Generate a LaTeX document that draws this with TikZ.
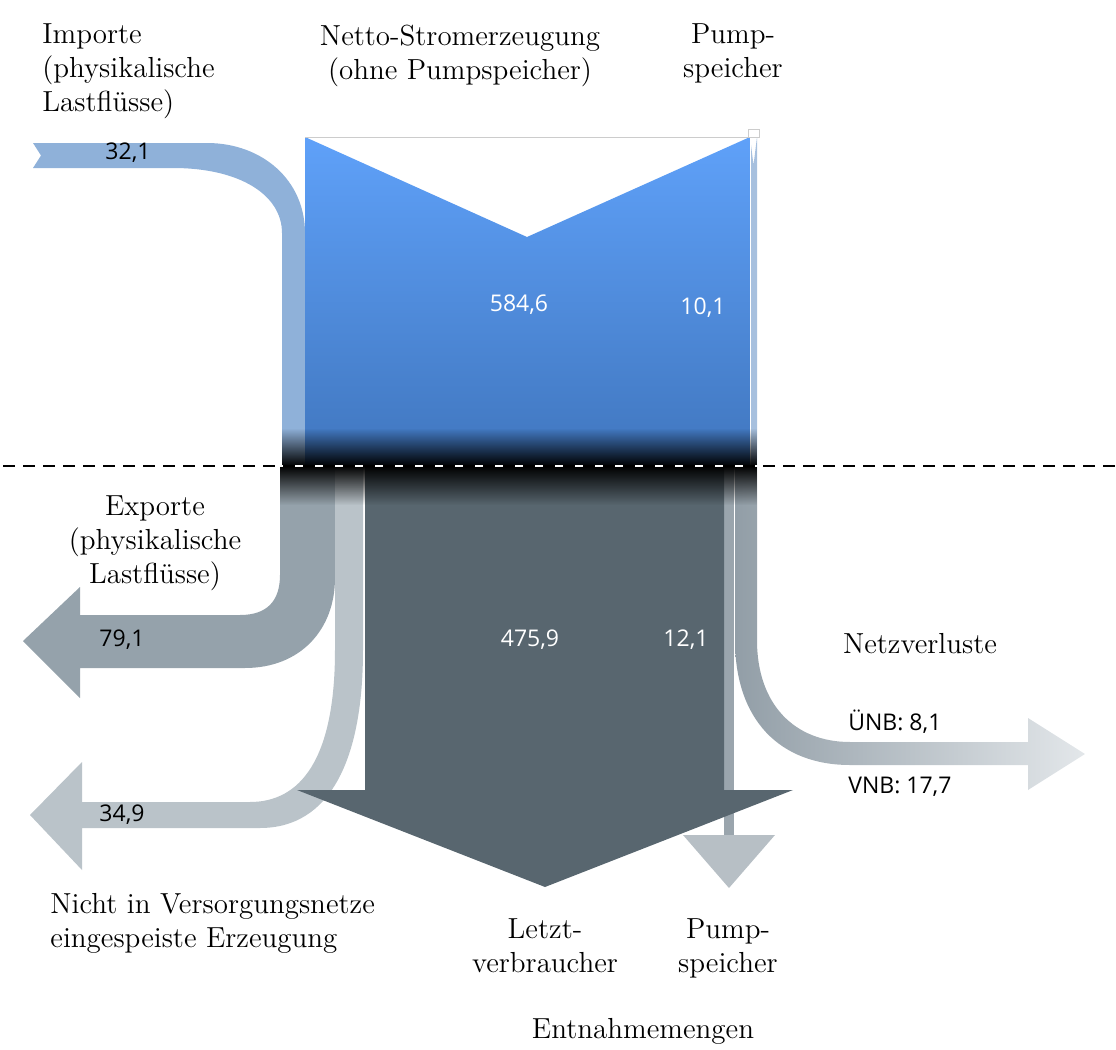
\documentclass[tikz,border=0pt]{standalone}
\usepackage{fontspec}
\newfontfamily\numfont{Open Sans}
\usepackage{tikz}
\usetikzlibrary{fadings}
\usepackage{xcolor}
\definecolor{impblue}{RGB}{143,177,217}
\definecolor{bluetop}{RGB}{95,161,249}
\definecolor{bluebot}{RGB}{64,118,190}
\definecolor{pumpblue}{RGB}{167,192,222}
\definecolor{expgrey}{RGB}{149,162,171}
\definecolor{nichtgrey}{RGB}{186,195,201}
\definecolor{darkgrey}{RGB}{88,102,111}
\definecolor{pumpgrey}{RGB}{154,165,173}
\definecolor{pumphead}{RGB}{183,191,197}
\definecolor{netzdark}{RGB}{146,158,167}
\definecolor{netzlight}{RGB}{227,231,234}

\begin{document}
\begin{tikzpicture}[x=0.5pt,y=-0.5pt,
  lbl/.style={font=\fontsize{14.5}{17}\selectfont, inner sep=0pt, align=center},
  num/.style={font=\numfont\fontsize{11.5}{14}\selectfont, inner sep=0pt}]
  \useasboundingbox (0,0) rectangle (1116,1050);
  % Aufkommen (oben)
  \fill[impblue] (33,143) -- (207,143) .. controls (262,143) and (305,180) .. (305,233) -- (305,466)
    -- (282,466) -- (282,233) .. controls (282,195) and (240,168) .. (173,168) -- (33,168) -- (41,155.5) -- cycle;
  \shade[top color=bluetop, bottom color=bluebot] (305,137) -- (527,237) -- (750,137) -- (750,466) -- (305,466) -- cycle;
  \fill[pumpblue] (750,137) -- (753.5,165) -- (757,137) -- (757,466) -- (750,466) -- cycle;
  \draw[white, line width=0.5pt] (750,137) -- (750,466);
  \draw[gray!40, line width=0.4pt] (305,137) -- (748,137);
  \draw[gray!40, fill=white, line width=0.4pt] (748,129) rectangle (759,137);
  % Verwendung (unten)
  \fill[expgrey] (280,466) -- (280,575) .. controls (280,600) and (268,615) .. (240,615) -- (80,615) -- (80,587)
    -- (23,641) -- (80,698) -- (80,668) -- (245,668) .. controls (300,668) and (335,630) .. (335,578) -- (335,466) -- cycle;
  \fill[nichtgrey] (335,466) -- (335,650) .. controls (335,760) and (300,802) .. (250,802) -- (82,802) -- (82,762)
    -- (30,815) -- (82,870) -- (82,828) -- (260,828) .. controls (330,828) and (363,760) .. (363,650) -- (363,466) -- cycle;
  \shade[left color=netzdark, right color=netzlight] (735,466) -- (735,640) .. controls (735,720) and (780,765) .. (850,765)
    -- (1028,765) -- (1028,790) -- (1085,754) -- (1028,718) -- (1028,742) -- (850,742)
    .. controls (795,742) and (757,705) .. (757,640) -- (757,466) -- cycle;
  \fill[pumpgrey] (724,466) rectangle (734,835);
  \fill[pumphead] (683,835) -- (775,835) -- (729,888) -- cycle;
  \fill[darkgrey] (365,466) -- (724,466) -- (724,790) -- (793,790) -- (545,887) -- (297,790) -- (365,790) -- cycle;
  % Übergang an der Bilanzgrenze
  \fill[black, path fading=north] (282,428) rectangle (757,466);
  \fill[black, path fading=south] (280,466) rectangle (757,505);
  \draw[white, line width=1.3pt] (3,466) -- (1116,466);
  \draw[black, line width=1.3pt, dash pattern=on 6pt off 4pt] (3,466) -- (1116,466);
  % Beschriftungen
  \node[lbl, anchor=north west, align=left] (importe) at (42,23) {Importe\\(physikalische\\Lastflüsse)};
  \node[lbl, anchor=north] (netto) at (460,25) {Netto-Stromerzeugung\\(ohne Pumpspeicher)};
  \node[lbl, anchor=north] (pumpoben) at (733,23) {Pump-\\speicher};
  \node[lbl, anchor=north] (exporte) at (155,495) {Exporte\\(physikalische\\Lastflüsse)};
  \node[lbl, anchor=north] (netzverluste) at (920,633) {Netzverluste};
  \node[lbl, anchor=north west, align=left] (nicht) at (50,893) {Nicht in Versorgungsnetze\\eingespeiste Erzeugung};
  \node[lbl, anchor=north] (letzt) at (545,918) {Letzt-\\verbraucher};
  \node[lbl, anchor=north] (pumpunten) at (728,918) {Pump-\\speicher};
  \node[lbl, anchor=north] (entnahme) at (643,1018) {Entnahmemengen};
  % Werte
  \node[num] (v321) at (128,153) {32,1};
  \node[num, white] (v5846) at (519,305) {584,6};
  \node[num, white] (v101) at (703,308) {10,1};
  \node[num] (v791) at (122,640) {79,1};
  \node[num, white] (v4759) at (530,640) {475,9};
  \node[num, white] (v121) at (686,640) {12,1};
  \node[num] (v349) at (122,815) {34,9};
  \node[num, anchor=west] (uenb) at (848,722) {ÜNB: 8,1};
  \node[num, anchor=west] (vnb) at (848,787) {VNB: 17,7};
\end{tikzpicture}
\end{document}
